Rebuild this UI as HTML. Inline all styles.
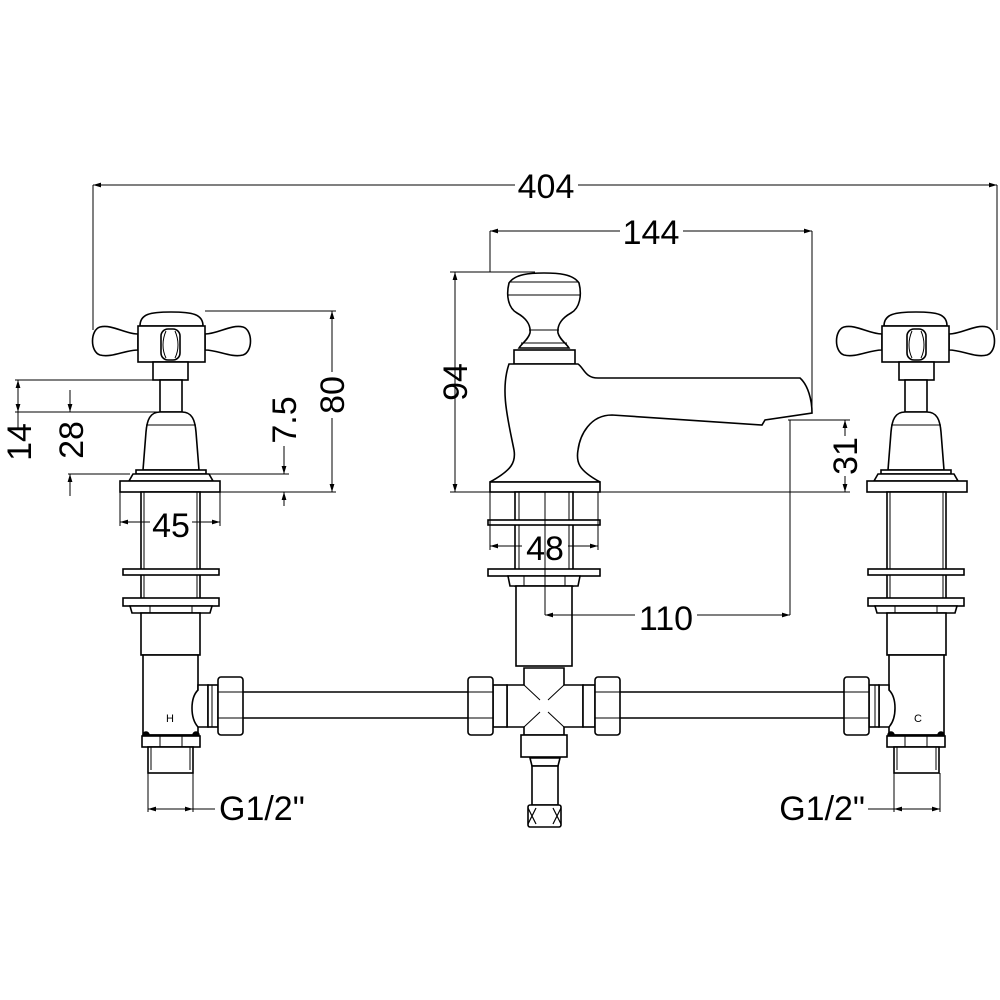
<!DOCTYPE html>
<html><head><meta charset="utf-8"><style>html,body{margin:0;padding:0;background:#fff}svg{display:block}</style></head><body>
<svg width="1000" height="1000" viewBox="0 0 1000 1000" xmlns="http://www.w3.org/2000/svg">
<defs>
<marker id="a" viewBox="0 0 10 10" refX="10" refY="5" markerWidth="12" markerHeight="8" orient="auto-start-reverse" markerUnits="userSpaceOnUse"><path d="M0,2 L10,5 L0,8 Z" fill="#000"/></marker>
<g id="valve" fill="#fff" stroke="#000" stroke-width="1.6">
  <!-- handles -->
  <path d="M138,334 C125,334 112,324 100,327 C90,330 90,352 100,355 C112,358 125,350 138,350 Z"/>
  <path d="M205,334 C218,334 231,324 243,327 C253,330 253,352 243,355 C231,358 218,350 205,350 Z"/>
  <path d="M140,326 C140,314 150,312 171,312 C192,312 203,314 203,326 Z"/>
  <rect x="138" y="326" width="67" height="36"/>
  <rect x="161" y="329" width="19" height="31" rx="7"/>
  <path d="M166,331 C162,340 162,350 166,358 M175,331 C179,340 179,350 175,358" fill="none" stroke-width="1"/>
  <rect x="153" y="362" width="35" height="18"/>
  <rect x="160" y="380" width="22" height="32"/>
  <path d="M143,470 L146,432 C147,420 150,412 160,412 L182,412 C192,412 195,420 196,432 L199,470 Z"/>
  <line x1="146" y1="425" x2="196" y2="425" stroke-width="1"/>
  <rect x="136" y="470" width="70" height="4"/>
  <path d="M133,474 L209,474 L213,481 L129,481 Z"/>
  <rect x="120" y="481" width="100" height="11"/>
  <!-- body -->
  <rect x="141" y="492" width="59" height="121"/>
  <line x1="144" y1="492" x2="144" y2="613" stroke-width="1"/>
  <line x1="197" y1="492" x2="197" y2="613" stroke-width="1"/>
  <rect x="123" y="569" width="96" height="6"/>
  <rect x="123" y="598" width="96" height="8"/>
  <path d="M130,606 L212,606 L210,613 L132,613 Z"/>
  <path d="M150,606 L150,613 M192,606 L192,613" stroke-width="1"/>
  <rect x="141" y="613" width="59" height="42"/>
  <rect x="143" y="655" width="55" height="80"/>
  <!-- elbow -->
  <path d="M198,690 C190,698 190,718 198,727 L208,727 L208,685 L198,685 Z"/>
  <rect x="208" y="685" width="10" height="42"/>
  <line x1="212" y1="685" x2="212" y2="727" stroke-width="1"/>
  <rect x="218" y="677" width="25" height="58" rx="3"/>
  <line x1="218" y1="692" x2="243" y2="692" stroke-width="1"/>
  <line x1="218" y1="718" x2="243" y2="718" stroke-width="1"/>
  <!-- bottom -->
  <line x1="143" y1="735" x2="198" y2="735"/>
  <circle cx="146" cy="735" r="3" fill="#000"/>
  <circle cx="196" cy="735" r="3" fill="#000"/>
  <rect x="142" y="736" width="58" height="11"/>
  <path d="M160,736 V747 M182,736 V747" stroke-width="1"/>
  <rect x="148" y="747" width="45" height="26"/>
  <line x1="151" y1="747" x2="151" y2="770" stroke-width="1"/>
  <line x1="190" y1="747" x2="190" y2="770" stroke-width="1"/>
</g>
</defs>

<!-- pipes -->
<g fill="none" stroke="#000" stroke-width="1.6">
  <line x1="243" y1="692" x2="468" y2="692"/>
  <line x1="243" y1="718" x2="468" y2="718"/>
  <line x1="620" y1="692" x2="845" y2="692"/>
  <line x1="620" y1="718" x2="845" y2="718"/>
</g>

<use href="#valve"/>
<use href="#valve" transform="matrix(-1,0,0,1,1087,0)"/>

<!-- center spout -->
<g fill="#fff" stroke="#000" stroke-width="1.6">
  <path d="M509,283 C515,274 530,273 544,273 C558,273 573,274 579,283 C582,295 580,308 571,313 C562,318 557,325 558,333 C560,340 566,343 569,348 L519,348 C522,343 528,340 530,333 C531,325 526,318 517,313 C508,308 506,295 509,283 Z"/>
  <line x1="509" y1="282" x2="579" y2="282" stroke-width="1"/>
  <line x1="508" y1="295" x2="580" y2="295" stroke-width="1"/>
  <line x1="529" y1="330" x2="559" y2="330" stroke-width="1"/>
  <line x1="521" y1="343" x2="567" y2="343" stroke-width="1"/>
  <rect x="514" y="350" width="61" height="14"/>
  <path d="M509,364 L578,364 C584,368 585,378 598,378 L800,378 C808,385 812,400 812,413 L765,420 L762,425 L612,415 C590,415 580,435 578,450 C576,462 578,470 600,482 L490,482 C512,470 516,462 514,450 C508,420 500,390 509,364 Z"/>
  <rect x="490" y="482" width="110" height="10"/>
  <!-- below deck -->
  <rect x="515" y="492" width="58" height="94"/>
  <line x1="519" y1="492" x2="519" y2="586" stroke-width="1"/>
  <line x1="569" y1="492" x2="569" y2="586" stroke-width="1"/>
  <rect x="488" y="520" width="112" height="5"/>
  <rect x="488" y="569" width="112" height="7"/>
  <path d="M508,576 L580,576 L578,586 L510,586 Z"/>
  <path d="M524,576 V586 M565,576 V586" stroke-width="1"/>
  <rect x="516" y="586" width="56" height="80"/>
  <!-- cross -->
  <path d="M524,668 L564,668 L564,685 L583,685 L583,727 L564,727 L564,735 L524,735 L524,727 L507,727 L507,685 L524,685 Z"/>
  <path d="M524,685 L540,700 M564,685 L548,700 M524,727 L540,712 M564,727 L548,712" stroke-width="1"/>
  <rect x="493" y="685" width="14" height="42"/>
  <rect x="583" y="685" width="12" height="42"/>
  <rect x="468" y="677" width="25" height="58" rx="3"/>
  <rect x="595" y="677" width="25" height="58" rx="3"/>
  <path d="M468,692 H493 M468,718 H493 M595,692 H620 M595,718 H620" stroke-width="1"/>
  <rect x="521" y="735" width="46" height="22"/>
  <path d="M530,758 L560,758 L558,766 L532,766 Z"/>
  <rect x="532" y="766" width="26" height="39"/>
  <rect x="528" y="805" width="33" height="22" rx="2"/>
  <path d="M528,808 L536,824 M561,808 L553,824 M536,808 L528,824 M553,808 L561,824" stroke-width="1.2"/>
</g>

<!-- dimension lines -->
<g fill="none" stroke="#000" stroke-width="1">
  <!-- 404 -->
  <line x1="93" y1="185" x2="93" y2="330"/>
  <line x1="997" y1="185" x2="997" y2="330"/>
  <line x1="93" y1="185" x2="515" y2="185" marker-start="url(#a)"/>
  <line x1="578" y1="185" x2="997" y2="185" marker-end="url(#a)"/>
  <!-- 144 -->
  <line x1="490" y1="231" x2="490" y2="272"/>
  <line x1="812" y1="231" x2="812" y2="413"/>
  <line x1="490" y1="231" x2="620" y2="231" marker-start="url(#a)"/>
  <line x1="683" y1="231" x2="812" y2="231" marker-end="url(#a)"/>
  <!-- 94 -->
  <line x1="450" y1="272" x2="535" y2="272"/>
  <line x1="455" y1="272" x2="455" y2="492" marker-start="url(#a)" marker-end="url(#a)"/>
  <line x1="450" y1="492" x2="850" y2="492"/>
  <!-- 31 -->
  <line x1="788" y1="420" x2="850" y2="420"/>
  <line x1="845" y1="420" x2="845" y2="436" marker-start="url(#a)"/>
  <line x1="845" y1="476" x2="845" y2="492" marker-end="url(#a)"/>
  <!-- 110 -->
  <line x1="790" y1="420" x2="790" y2="615"/>
  <line x1="545" y1="492" x2="545" y2="615"/>
  <line x1="545" y1="615" x2="635" y2="615" marker-start="url(#a)"/>
  <line x1="697" y1="615" x2="790" y2="615" marker-end="url(#a)"/>
  <!-- 48 -->
  <line x1="490" y1="492" x2="490" y2="550"/>
  <line x1="598" y1="492" x2="598" y2="550"/>
  <line x1="490" y1="546" x2="522" y2="546" marker-start="url(#a)"/>
  <line x1="568" y1="546" x2="598" y2="546" marker-end="url(#a)"/>
  <!-- 45 -->
  <line x1="120" y1="492" x2="120" y2="526"/>
  <line x1="220" y1="492" x2="220" y2="526"/>
  <line x1="120" y1="522" x2="150" y2="522" marker-start="url(#a)"/>
  <line x1="192" y1="522" x2="220" y2="522" marker-end="url(#a)"/>
  <!-- 80 -->
  <line x1="205" y1="311" x2="336" y2="311"/>
  <line x1="215" y1="492" x2="336" y2="492"/>
  <line x1="332" y1="311" x2="332" y2="372" marker-start="url(#a)"/>
  <line x1="332" y1="418" x2="332" y2="492" marker-end="url(#a)"/>
  <!-- 7.5 -->
  <line x1="208" y1="474" x2="289" y2="474"/>
  <line x1="284" y1="446" x2="284" y2="474" marker-end="url(#a)"/>
  <line x1="284" y1="506" x2="284" y2="492" marker-end="url(#a)"/>
  <!-- 14 / 28 -->
  <line x1="15" y1="380" x2="155" y2="380"/>
  <line x1="15" y1="412" x2="160" y2="412"/>
  <line x1="18" y1="380" x2="18" y2="412" marker-start="url(#a)" marker-end="url(#a)"/>
  <line x1="18" y1="412" x2="18" y2="430"/>
  <line x1="70" y1="390" x2="70" y2="412" marker-end="url(#a)"/>
  <line x1="68" y1="474" x2="130" y2="474"/>
  <line x1="70" y1="496" x2="70" y2="474" marker-end="url(#a)"/>
  <!-- G1/2 -->
  <line x1="148" y1="773" x2="148" y2="812"/>
  <line x1="193" y1="773" x2="193" y2="812"/>
  <line x1="148" y1="809" x2="215" y2="809" marker-start="url(#a)"/>
  <line x1="170" y1="809" x2="193" y2="809" marker-end="url(#a)"/>
  <line x1="894" y1="773" x2="894" y2="812"/>
  <line x1="940" y1="773" x2="940" y2="812"/>
  <line x1="868" y1="809" x2="940" y2="809" marker-end="url(#a)"/>
  <line x1="894" y1="809" x2="915" y2="809" marker-start="url(#a)"/>
</g>

<g font-family="Liberation Sans, sans-serif" font-size="34" fill="#000">
  <text x="546" y="198" text-anchor="middle">404</text>
  <text x="651" y="244" text-anchor="middle">144</text>
  <text x="545" y="560" text-anchor="middle">48</text>
  <text x="171" y="537" text-anchor="middle">45</text>
  <text x="666" y="630" text-anchor="middle">110</text>
  <text x="219" y="820">G1/2"</text>
  <text x="865" y="820" text-anchor="end">G1/2"</text>
  <text transform="translate(467,382) rotate(-90)" text-anchor="middle">94</text>
  <text transform="translate(857,456) rotate(-90)" text-anchor="middle">31</text>
  <text transform="translate(344,395) rotate(-90)" text-anchor="middle">80</text>
  <text transform="translate(296,420) rotate(-90)" text-anchor="middle">7.5</text>
  <text transform="translate(31,442) rotate(-90)" text-anchor="middle">14</text>
  <text transform="translate(83,440) rotate(-90)" text-anchor="middle">28</text>
</g>
<g font-family="Liberation Sans, sans-serif" font-size="11" fill="#000">
  <text x="170" y="722" text-anchor="middle">H</text>
  <text x="918" y="722" text-anchor="middle">C</text>
</g>
</svg>
</body></html>
